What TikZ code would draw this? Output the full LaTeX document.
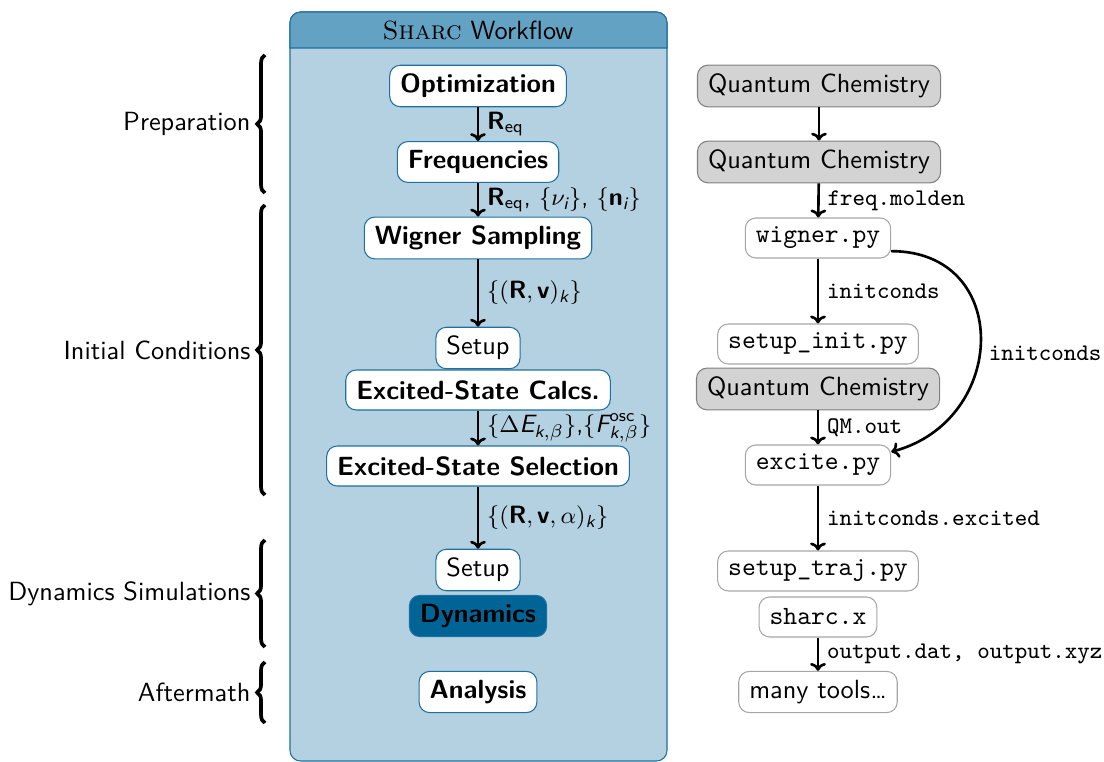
\documentclass[tikz,border=0pt]{standalone}
\usepackage{amsmath}
\usetikzlibrary{arrows.meta,decorations.pathreplacing}

\definecolor{sharcdark}{RGB}{0,100,150}
\definecolor{sharchead}{RGB}{100,162,196}
\definecolor{sharclight}{RGB}{179,209,225}
\definecolor{sharcline}{RGB}{31,111,159}
\definecolor{qcgray}{RGB}{211,211,211}

\newcommand{\bR}{\text{\sffamily\bfseries R}}
\newcommand{\bv}{\text{\sffamily\bfseries v}}
\newcommand{\bn}{\text{\sffamily\bfseries n}}
\newcommand{\si}[1]{\text{\sffamily\itshape #1}}
\newcommand{\su}[1]{\text{\sffamily #1}}

\tikzset{
  stage/.style={draw=sharcline, fill=white, rounded corners=4pt, font=\sffamily\bfseries,
    minimum height=15.2pt, inner xsep=4pt},
  plainstage/.style={stage, font=\sffamily},
  tool/.style={draw=gray!70, fill=white, rounded corners=4pt, font=\ttfamily,
    minimum height=15.2pt, inner xsep=4pt},
  qc/.style={tool, fill=qcgray, draw=gray, font=\sffamily},
  flow/.style={-{To[length=3pt,width=6pt]}, line width=1pt},
  lbl/.style={right, font=\fontsize{9.5}{11}\sffamily, inner sep=3pt},
  tlbl/.style={right, font=\fontsize{9.05}{11}\ttfamily, inner sep=3pt},
  phase/.style={decorate, decoration={brace, amplitude=3pt}, line width=1.4pt},
}

\begin{document}
\begin{tikzpicture}[x=0.38pt, y=-0.38pt]
  \useasboundingbox (0,0) rectangle (1104,762);

  % workflow frame
  \draw[sharcline, fill=sharclight, rounded corners=4pt] (290,12) rectangle (667,761);
  \draw[sharcline, fill=sharchead] (290,48) [rounded corners=4pt] -- (290,12) -- (667,12)
    [sharp corners] -- (667,48) -- cycle;
  \node[font=\sffamily] (title) at (478,31) {\textrm{\textsc{Sharc}} Workflow};

  % SHARC stages
  \node[stage] (opt) at (478,86) {Optimization};
  \node[stage] (freq) at (478,162) {Frequencies};
  \node[stage] (wign) at (478,238) {Wigner Sampling};
  \node[plainstage] (setupa) at (478,348) {Setup};
  \node[stage] (calc) at (478,390) {Excited-State Calcs.};
  \node[stage] (sel) at (478,466) {Excited-State Selection};
  \node[plainstage] (setupb) at (478,570) {Setup};
  \node[stage, fill=sharcdark] (dyn) at (478,616) {Dynamics};
  \node[stage] (ana) at (478,692) {Analysis};

  \draw[flow] (opt) -- node[lbl] {$\bR_{\su{eq}}$} (freq);
  \draw[flow] (freq) -- node[lbl] {$\bR_{\su{eq}}$, $\{\nu_{\si{i}}\}$, $\{\bn_{\si{i}}\}$} (wign);
  \draw[flow] (wign) -- node[lbl] {$\{(\bR,\bv)_{\si{k}}\}$} (setupa);
  \draw[flow] (calc) -- node[lbl] {$\{\Delta\si{E}_{\si{k},\beta}\}$,$\{\si{F}^{\su{osc}}_{\si{k},\beta}\}$} (sel);
  \draw[flow] (sel) -- node[lbl] {$\{(\bR,\bv,\alpha)_{\si{k}}\}$} (setupb);

  % programs
  \node[qc] (qca) at (819,86) {Quantum Chemistry};
  \node[qc] (qcb) at (819,162) {Quantum Chemistry};
  \node[tool] (wigpy) at (818,238) {wigner.py};
  \node[tool] (initpy) at (818,344) {setup\_init.py};
  \node[qc] (qcc) at (818,389) {Quantum Chemistry};
  \node[tool] (excpy) at (818,465) {excite.py};
  \node[tool] (trajpy) at (818,571) {setup\_traj.py};
  \node[tool] (sharcx) at (818,617) {sharc.x};
  \node[tool, font=\sffamily] (tools) at (818,692) {many tools\dots};

  \draw[flow] (qca) -- (qcb);
  \draw[flow] (qcb) -- node[tlbl] {freq.molden} (wigpy);
  \draw[flow] (wigpy) -- node[tlbl] {initconds} (initpy);
  \draw[flow] (qcc) -- node[tlbl] {QM.out} (excpy);
  \draw[flow] (excpy) -- node[tlbl] {initconds.excited} (trajpy);
  \draw[flow] (sharcx) -- node[tlbl] {output.dat, output.xyz} (tools);
  \draw[flow] ([yshift=-5pt]wigpy.east) to[out=0, in=15, looseness=1.55]
    node[tlbl, pos=0.55] {initconds} ([yshift=5pt]excpy.east);

  % phases
  \draw[phase] (265,193) -- node[left=1.5pt, font=\sffamily] (prep) {Preparation} (265,55);
  \draw[phase] (265,495) -- node[left=1.5pt, font=\sffamily] (init) {Initial Conditions} (265,205);
  \draw[phase] (265,647) -- node[left=1.5pt, font=\sffamily] (dynsim) {Dynamics Simulations} (265,540);
  \draw[phase] (265,723) -- node[left=1.5pt, font=\sffamily] (after) {Aftermath} (265,662);
\end{tikzpicture}
\end{document}
